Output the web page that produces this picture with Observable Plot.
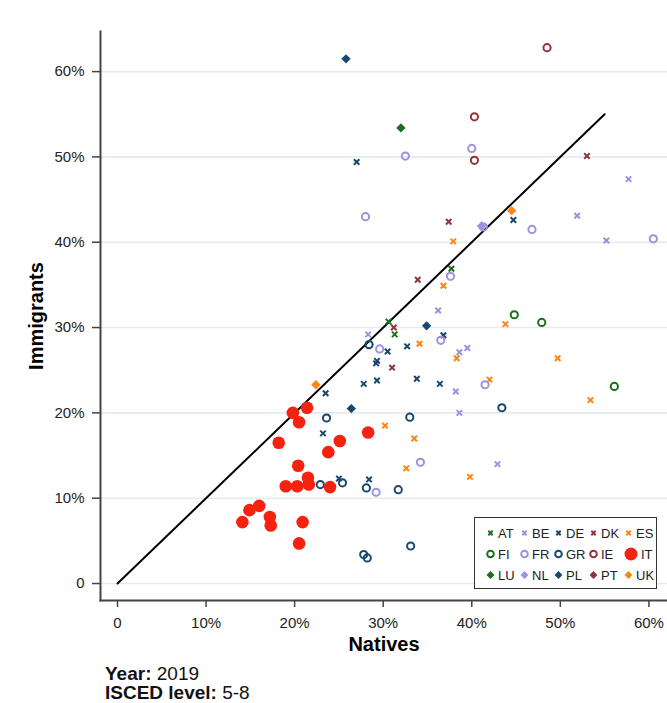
<!DOCTYPE html>
<html><head><meta charset="utf-8">
<script src="https://cdn.jsdelivr.net/npm/d3@7"></script>
<script src="https://cdn.jsdelivr.net/npm/@observablehq/plot@0.6"></script>
<style>
body{margin:0;background:#fff;font-family:"Liberation Sans",Arial,sans-serif;}
#wrap{position:relative;width:667px;height:703px;overflow:hidden;}
#legend{position:absolute;left:474px;top:517px;width:183px;height:72px;border:1.3px solid #333;background:#fff;box-sizing:border-box;}
.item{position:absolute;display:flex;align-items:center;font-size:13px;color:#222;height:16px;}
.item svg{margin-right:2px;}
#caption{position:absolute;left:105px;top:664px;font-size:19px;line-height:19px;color:#111;}
#chart svg text.tl{font-size:15px !important;}
</style></head><body>
<div id="wrap"><div id="chart"></div><div id="legend"></div>
<div id="caption"><b>Year:</b> 2019<br><b>ISCED level:</b> 5-8</div></div>
<script>
// ---- data: [natives %, immigrants %] ----
const countries = ["AT","BE","DE","DK","ES","FI","FR","GR","IE","IT","LU","NL","PL","PT","UK"];
const AT = [[37.7,36.9],[30.6,30.7],[31.3,29.2]];
const BE = [[57.7,47.4],[51.9,43.1],[55.2,40.2],[36.2,32.0],[39.5,27.6],[38.6,27.1],[38.2,22.5],[38.6,20.0],[28.3,29.2],[42.9,14.0]];
const DE = [[27.0,49.4],[44.7,42.6],[36.8,29.1],[32.7,27.8],[30.5,27.2],[29.2,25.8],[29.3,26.1],[33.8,24.0],[36.4,23.4],[27.8,23.4],[29.3,23.8],[23.5,22.3],[23.2,17.6],[25.0,12.3],[28.4,12.2]];
const DK = [[53.0,50.1],[37.4,42.4],[33.9,35.6],[31.2,30.0],[31.0,25.3]];
const ES = [[37.9,40.1],[36.8,34.9],[43.8,30.4],[34.1,28.1],[38.3,26.4],[49.7,26.4],[42.0,23.9],[53.4,21.5],[30.2,18.5],[33.5,17.0],[32.6,13.5],[39.8,12.5]];
const FI = [[44.8,31.5],[47.9,30.6],[56.1,23.1]];
const FR = [[28.0,43.0],[40.0,51.0],[32.5,50.1],[41.3,41.8],[46.8,41.5],[60.5,40.4],[37.6,36.0],[36.5,28.5],[29.6,27.5],[41.5,23.3],[34.2,14.2],[29.2,10.7]];
const GR = [[28.4,28.0],[23.6,19.4],[33.0,19.5],[43.4,20.6],[22.9,11.6],[25.4,11.8],[28.1,11.2],[31.7,11.0],[27.8,3.4],[28.2,3.0],[33.1,4.4]];
const IE = [[48.5,62.8],[40.3,54.7],[40.3,49.6]];
const IT = [[19.8,20.0],[21.4,20.6],[20.5,18.9],[18.2,16.5],[25.1,16.7],[28.3,17.7],[23.8,15.4],[20.4,13.8],[21.5,12.4],[21.6,11.6],[19.0,11.4],[20.3,11.4],[24.0,11.3],[14.9,8.6],[16.0,9.1],[14.1,7.2],[17.2,7.8],[17.3,6.8],[20.9,7.2],[20.5,4.7]];
const LU = [[32.0,53.4]];
const NL = [[41.1,41.9]];
const PL = [[25.8,61.5],[34.9,30.2],[26.4,20.5]];
const PT = [];
const UK = [[44.5,43.7],[22.4,23.3]];
const diagonal = [[0,0],[55,55]];
const ticks = [0,10,20,30,40,50,60];
const xLabel = "Natives", yLabel = "Immigrants";

const series = {AT,BE,DE,DK,ES,FI,FR,GR,IE,IT,LU,NL,PL,PT,UK};

// ---- styles ----
const GREEN="#1b6e1b", LAV="#9d92dd", NAVY="#1a476f", MAROON="#90353b", ORANGE="#ff8410", RED="#f5220f";
const style = {
  AT:{kind:"x",color:GREEN}, BE:{kind:"x",color:LAV}, DE:{kind:"x",color:NAVY}, DK:{kind:"x",color:MAROON}, ES:{kind:"x",color:ORANGE},
  FI:{kind:"o",color:GREEN}, FR:{kind:"o",color:LAV}, GR:{kind:"o",color:NAVY}, IE:{kind:"o",color:MAROON}, IT:{kind:"big",color:RED},
  LU:{kind:"d",color:GREEN}, NL:{kind:"d",color:LAV}, PL:{kind:"d",color:NAVY}, PT:{kind:"d",color:MAROON}, UK:{kind:"d",color:ORANGE}
};

const rows = [];
for (const c of countries) for (const [x,y] of series[c]) rows.push({c, x, y});
const of = k => rows.filter(d => style[d.c].kind === k);
const fmt = d => d === 0 ? "0" : d + "%";

const chart = Plot.plot({
  width: 667, height: 660,
  marginLeft: 100, marginRight: 0, marginTop: 31, marginBottom: 60,
  style: {fontFamily: "Liberation Sans, Arial, sans-serif", color: "#222", background: "#fff"},
  x: {domain: [-1.92, 62.1]},
  y: {domain: [-1.99, 64.7]},
  marks: [
    Plot.ruleY(ticks, {y: d => d, stroke: "#e2ebee", strokeWidth: 1.6}),
    Plot.line(diagonal, {x: d => d[0], y: d => d[1], stroke: "#000", strokeWidth: 2}),
    Plot.dot(of("x"), {x: "x", y: "y", symbol: "times", stroke: d => style[d.c].color, strokeWidth: 2, r: 2.6}),
    Plot.dot(of("o"), {x: "x", y: "y", symbol: "circle", stroke: d => style[d.c].color, fill: "none", strokeWidth: 2, r: 3.6}),
    Plot.dot(of("d"), {x: "x", y: "y", symbol: "diamond2", fill: d => style[d.c].color, r: 4.2}),
    Plot.dot(of("big"), {x: "x", y: "y", symbol: "circle", fill: d => style[d.c].color, r: 6.3}),
    Plot.axisY(ticks, {tickFormat: fmt, tickSize: 8, tickPadding: 8, fontSize: 15, stroke: "#444", strokeWidth: 1.5, label: yLabel, labelAnchor: "center", labelArrow: "none", labelOffset: 72}),
    Plot.axisX(ticks, {tickFormat: fmt, tickSize: 7, tickPadding: 10, fontSize: 15, stroke: "#444", strokeWidth: 1.5, label: xLabel, labelAnchor: "center", labelArrow: "none", labelOffset: 50}),
    Plot.frame({anchor: "left", stroke: "#444", strokeWidth: 2}),
    Plot.frame({anchor: "bottom", stroke: "#444", strokeWidth: 2})
  ]
});
document.getElementById("chart").appendChild(chart);
const root = d3.select(chart);
root.selectAll("text").classed("tl", true).attr("font-size", "15").style("fill", "#222");
root.selectAll('g[aria-label="y-axis label"] text, g[aria-label="x-axis label"] text')
  .classed("tl", false).attr("font-size", "20").style("font-size", "20px").style("font-weight", "bold").style("fill", "#000");

// ---- legend ----
const legend = d3.select("#legend");
const colX = [10, 44, 78, 113, 148], rowY = [7, 28, 49];
countries.forEach((c, i) => {
  const s = style[c];
  const item = legend.append("div").attr("class", "item")
    .style("left", colX[i % 5] + "px").style("top", rowY[Math.floor(i / 5)] + "px");
  const w = s.kind === "big" ? 16 : 11;
  const svg = item.append("svg").attr("width", w).attr("height", 16);
  const g = svg.append("g").attr("transform", `translate(${w/2},8)`);
  if (s.kind === "x") g.append("path").attr("d", d3.symbol(d3.symbolTimes, 14)()).attr("stroke", s.color).attr("stroke-width", 2).attr("fill", "none");
  else if (s.kind === "o") g.append("circle").attr("r", 3.3).attr("stroke", s.color).attr("stroke-width", 2).attr("fill", "none");
  else if (s.kind === "d") g.append("path").attr("d", d3.symbol(d3.symbolDiamond2, 40)()).attr("fill", s.color);
  else g.append("circle").attr("r", 6.5).attr("fill", s.color);
  item.append("span").text(c);
});
</script>
</body></html>
